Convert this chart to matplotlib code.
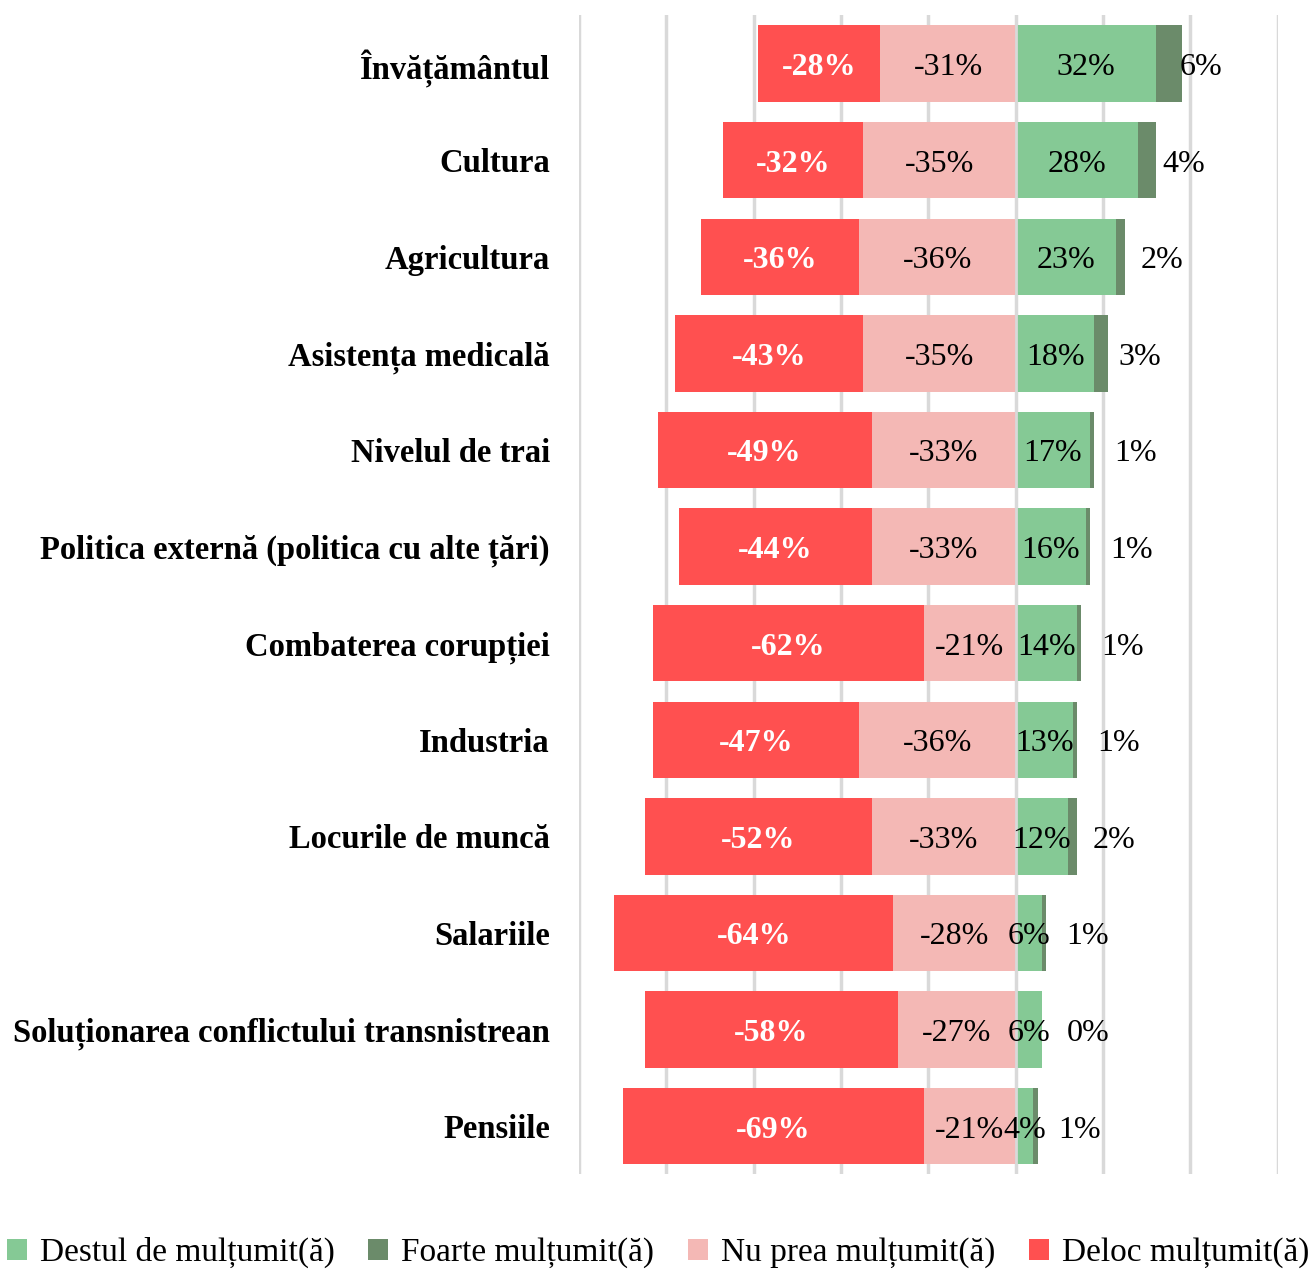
import numpy as np
import matplotlib.pyplot as plt

categories = ["Învățământul", "Cultura", "Agricultura", "Asistența medicală",
              "Nivelul de trai", "Politica externă (politica cu alte țări)",
              "Combaterea corupției", "Industria", "Locurile de muncă",
              "Salariile", "Soluționarea conflictului transnistrean", "Pensiile"]
deloc = [-28, -32, -36, -43, -49, -44, -62, -47, -52, -64, -58, -69]
nu_prea = [-31, -35, -36, -35, -33, -33, -21, -36, -33, -28, -27, -21]
destul = [32, 28, 23, 18, 17, 16, 14, 13, 12, 6, 6, 4]
foarte = [6, 4, 2, 3, 1, 1, 1, 1, 2, 1, 0, 1]

series_names = ["Destul de mulțumit(ă)", "Foarte mulțumit(ă)",
                "Nu prea mulțumit(ă)", "Deloc mulțumit(ă)"]
c_destul, c_foarte, c_nu, c_deloc = "#85C995", "#6B8B6A", "#F4B8B5", "#FF5050"

plt.rcParams['font.family'] = ['Liberation Serif', 'DejaVu Serif']

fig = plt.figure(figsize=(13.16, 12.78), dpi=100)
ax = fig.add_axes([0.44, 0.081, 0.531, 0.907])

y = np.arange(len(categories))
nu = np.array(nu_prea)
de = np.array(deloc)
ds = np.array(destul)
fo = np.array(foarte)

h = 0.79
b_destul = ax.barh(y, ds, height=h, color=c_destul, zorder=2)
b_foarte = ax.barh(y, fo, left=ds, height=h, color=c_foarte, zorder=2)
b_nu = ax.barh(y, nu, height=h, color=c_nu, zorder=2)
b_deloc = ax.barh(y, de, left=nu, height=h, color=c_deloc, zorder=2)

fs = 23
ty = y + 0.04
for i in range(len(y)):
    ax.text(nu[i] + de[i] / 2, ty[i], f"{de[i]}%", ha='center', va='center',
            color='white', fontsize=fs, fontweight='bold', zorder=4)
    ax.text(nu[i] / 2, ty[i], f"{nu[i]}%", ha='center', va='center',
            color='black', fontsize=fs, zorder=4)
    ax.text(ds[i] / 2, ty[i], f"{ds[i]}%", ha='center', va='center',
            color='black', fontsize=fs, zorder=4)
    ax.text(ds[i] + 10.5, ty[i], f"{fo[i]}%", ha='center', va='center',
            color='black', fontsize=fs, zorder=4)

ax.axvline(0, color='#D9D9D9', lw=2, zorder=3)
ax.set_xlim(-100, 60)
ax.set_xticks(np.arange(-100, 61, 20))
ax.set_ylim(len(y) - 0.5, -0.5)
ax.set_yticks(y)
ax.set_yticklabels(categories, fontsize=23.5, fontweight='bold')
ax.tick_params(axis='y', length=0, pad=21)
ax.tick_params(axis='x', length=0, labelbottom=False)
ax.grid(axis='x', color='#D9D9D9', lw=2.5)
ax.set_axisbelow(True)
for s in ax.spines.values():
    s.set_visible(False)

handles = [b_destul, b_foarte, b_nu, b_deloc]
fig.legend(handles, series_names, loc='lower center', bbox_to_anchor=(0.5, -0.016),
           ncol=4, frameon=False, fontsize=24, handlelength=0.6, handleheight=0.6,
           handletextpad=0.4, columnspacing=1.0)

fig.savefig("out.png", dpi=100)
